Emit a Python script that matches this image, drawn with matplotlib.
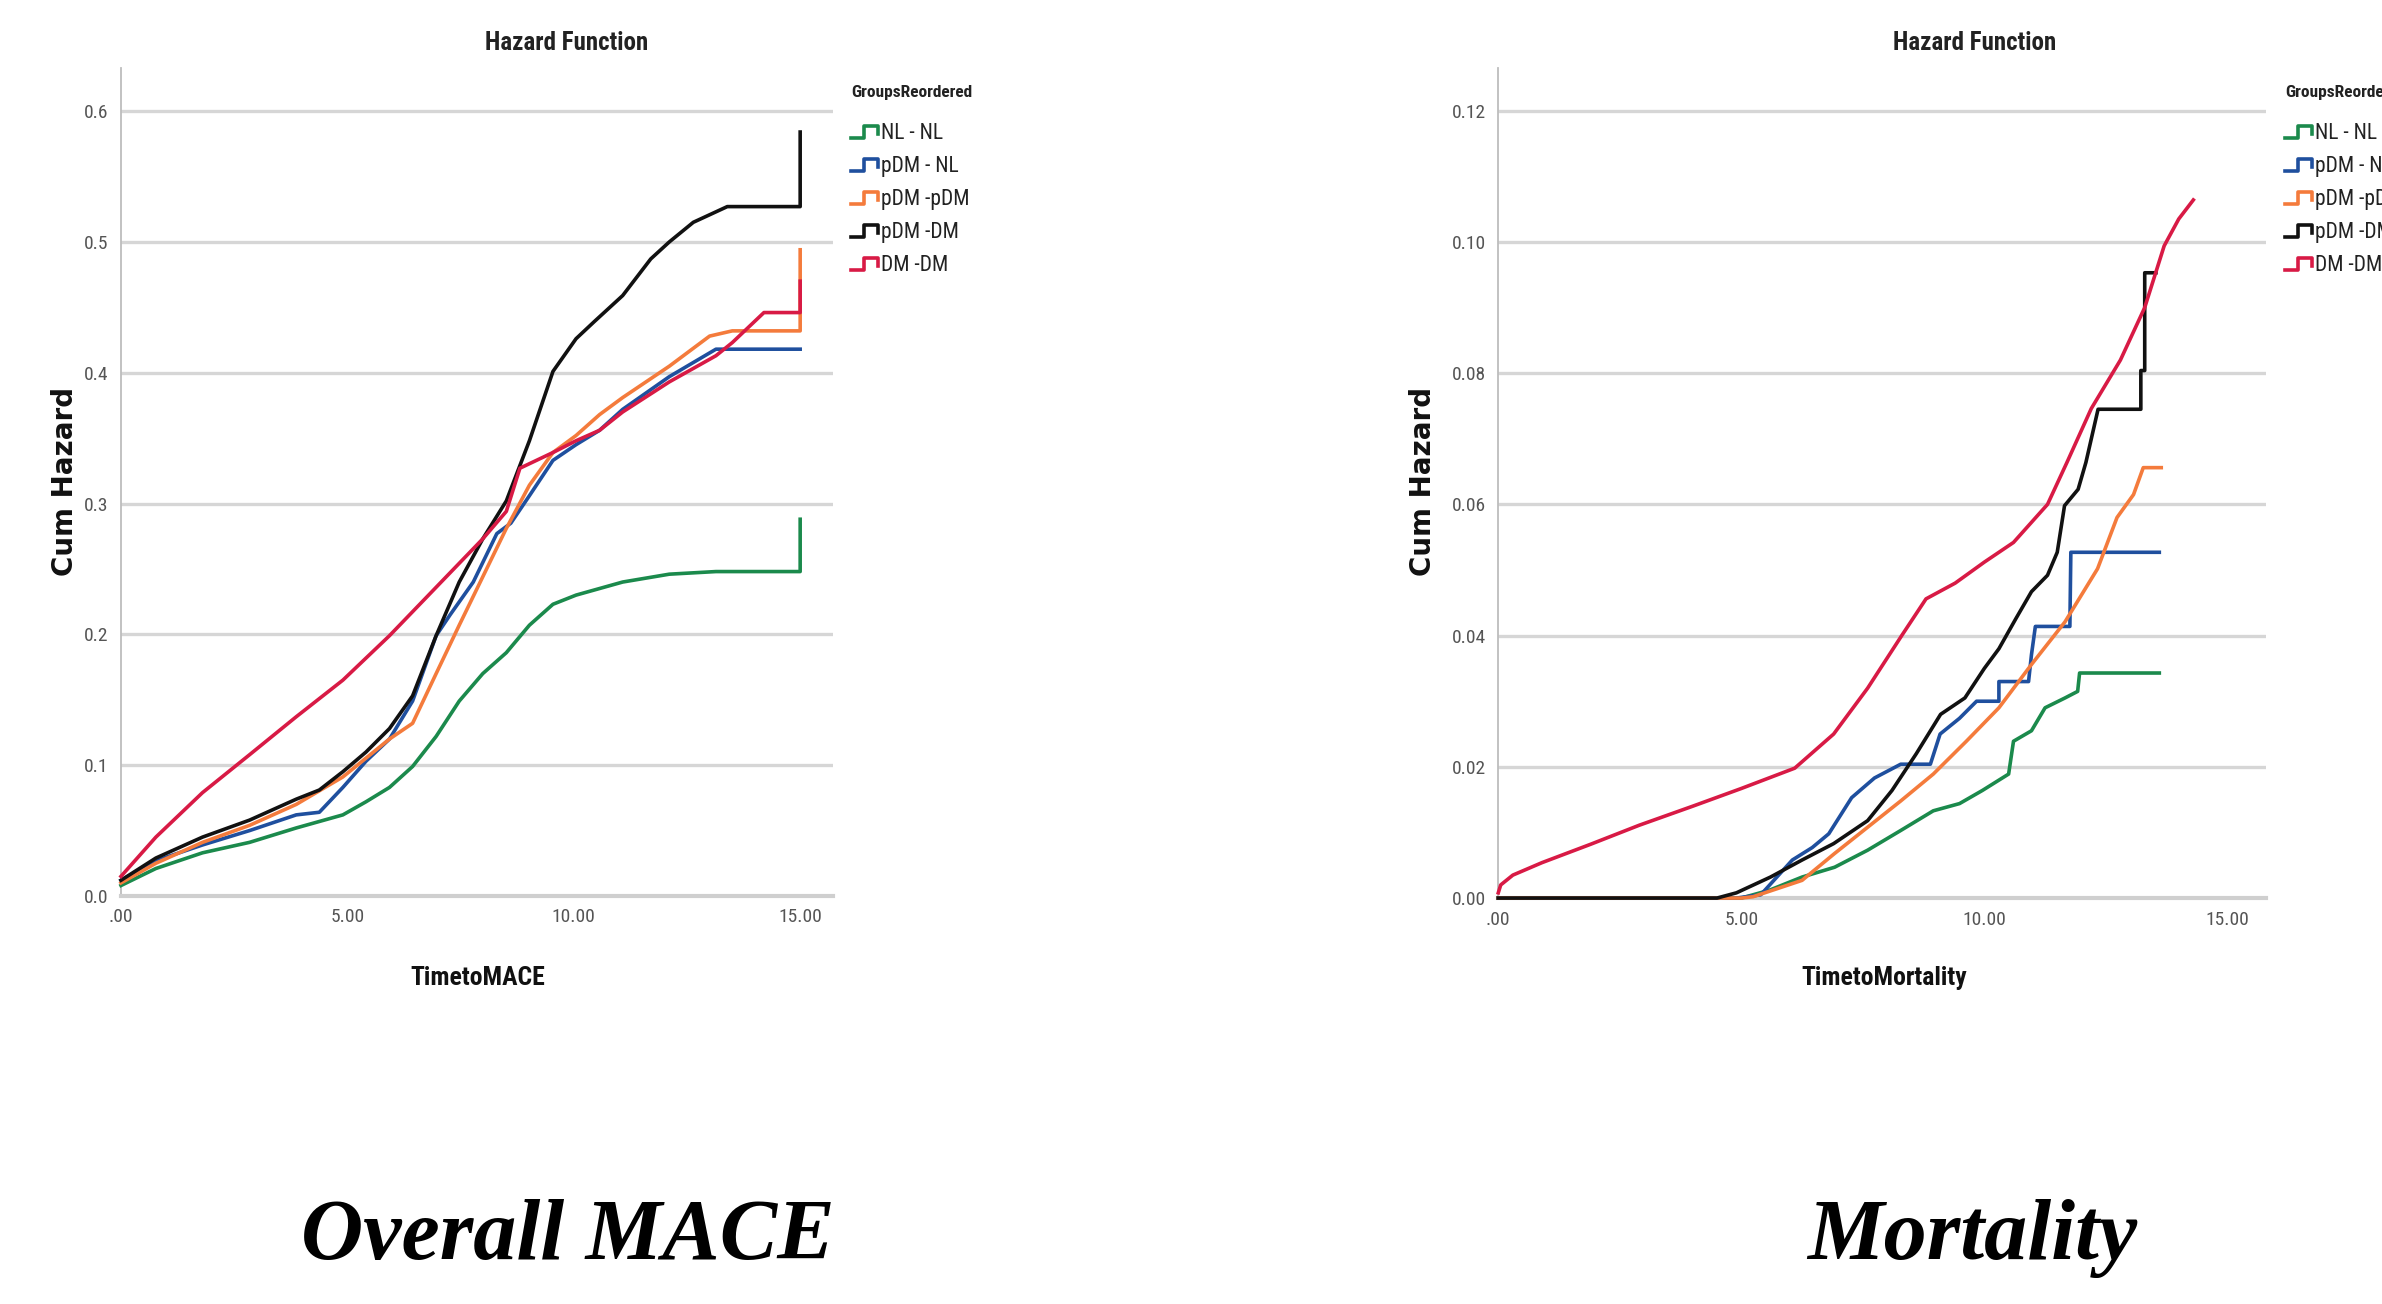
import numpy as np
import matplotlib
matplotlib.use("Agg")
import matplotlib.pyplot as plt
from matplotlib import font_manager
from matplotlib.legend_handler import HandlerBase
from matplotlib.lines import Line2D

# ---- data ----
groups = ["NL - NL", "pDM - NL", "pDM -pDM", "pDM -DM", "DM -DM"]
colors = ["#1b8a4c", "#1f4f9e", "#f47b3c", "#111111", "#d81a45"]

# Overall MACE (cumulative hazard vs TimetoMACE)
mace_t_nl = [0, 0.77, 1.8, 2.84, 3.87, 4.9, 5.41, 5.93, 6.44, 6.96, 7.47, 7.99, 8.51, 9.02,
             9.54, 10.05, 11.08, 12.11, 13.14, 15.0, 15.0]
mace_v_nl = [0.008, 0.021, 0.033, 0.041, 0.052, 0.062, 0.072, 0.083, 0.099, 0.122, 0.149, 0.170,
             0.186, 0.207, 0.223, 0.230, 0.240, 0.246, 0.248, 0.248, 0.288]
mace_t_pdm_nl = [0, 0.77, 1.8, 2.84, 3.87, 4.38, 4.9, 5.41, 5.93, 6.44, 6.96, 7.27, 7.78, 8.3,
                 8.61, 9.02, 9.54, 10.05, 10.57, 11.08, 12.11, 13.14, 15.0]
mace_v_pdm_nl = [0.012, 0.027, 0.039, 0.050, 0.062, 0.064, 0.083, 0.103, 0.120, 0.149, 0.199,
                 0.215, 0.240, 0.277, 0.285, 0.306, 0.333, 0.345, 0.356, 0.372, 0.397, 0.418, 0.418]
mace_t_pdm_pdm = [0, 0.77, 1.8, 2.84, 3.87, 4.9, 5.93, 6.44, 6.96, 7.47, 7.99, 8.51, 9.02, 9.54,
                  10.05, 10.57, 11.08, 12.11, 13.0, 13.5, 15.0, 15.0]
mace_v_pdm_pdm = [0.010, 0.025, 0.041, 0.054, 0.070, 0.091, 0.120, 0.132, 0.170, 0.207, 0.244,
                  0.281, 0.314, 0.339, 0.352, 0.368, 0.381, 0.405, 0.428, 0.432, 0.432, 0.494]
mace_t_pdm_dm = [0, 0.77, 1.8, 2.84, 3.87, 4.38, 4.9, 5.41, 5.93, 6.44, 6.96, 7.47, 7.99, 8.51,
                 9.02, 9.54, 10.05, 10.45, 11.08, 11.7, 12.11, 12.64, 13.39, 15.0, 15.0]
mace_v_pdm_dm = [0.012, 0.029, 0.045, 0.058, 0.074, 0.081, 0.095, 0.110, 0.128, 0.153, 0.199,
                 0.240, 0.273, 0.302, 0.348, 0.401, 0.426, 0.439, 0.459, 0.487, 0.500, 0.515,
                 0.527, 0.527, 0.584]
mace_t_dm = [0, 0.77, 1.8, 2.84, 3.87, 4.9, 5.93, 6.96, 7.99, 8.51, 8.81, 9.54, 10.05, 10.57,
             11.08, 12.11, 13.14, 13.5, 14.2, 15.0, 15.0]
mace_v_dm = [0.015, 0.045, 0.079, 0.108, 0.137, 0.165, 0.199, 0.236, 0.273, 0.294, 0.327, 0.339,
             0.348, 0.356, 0.370, 0.393, 0.413, 0.423, 0.446, 0.446, 0.470]

# Mortality (cumulative hazard vs TimetoMortality)
mort_t_nl = [0, 5.0, 5.58, 6.25, 6.92, 7.6, 8.28, 8.95, 9.49, 9.96, 10.5, 10.6, 10.97, 11.25,
             11.66, 11.92, 11.96, 13.6]
mort_v_nl = [0, 0, 0.0012, 0.0032, 0.0047, 0.0073, 0.0103, 0.0133, 0.0144, 0.0164, 0.0189,
             0.0239, 0.0255, 0.029, 0.0305, 0.0315, 0.0343, 0.0343]
mort_t_pdm_nl = [0, 4.9, 5.4, 6.05, 6.46, 6.8, 7.27, 7.74, 8.28, 8.89, 9.09, 9.49, 9.84, 10.3,
                 10.3, 10.91, 10.97, 11.05, 11.76, 11.78, 13.6]
mort_v_pdm_nl = [0, 0, 0.0005, 0.0058, 0.0077, 0.0098, 0.0153, 0.0183, 0.0204, 0.0204, 0.025,
                 0.0274, 0.030, 0.030, 0.033, 0.033, 0.0371, 0.0414, 0.0414, 0.0527, 0.0527]
mort_t_pdm_pdm = [0, 5.0, 5.24, 6.25, 6.92, 7.6, 8.28, 8.95, 9.63, 10.3, 10.97, 11.66, 12.33,
                  12.73, 13.07, 13.27, 13.64]
mort_v_pdm_pdm = [0, 0, 0.0002, 0.0027, 0.0068, 0.0108, 0.0148, 0.0189, 0.0239, 0.029, 0.0356,
                  0.0421, 0.0502, 0.058, 0.0615, 0.0656, 0.0656]
mort_t_pdm_dm = [0, 4.5, 4.9, 5.6, 6.25, 6.9, 7.6, 8.1, 8.6, 9.1, 9.6, 10.0, 10.3, 10.65, 10.97,
                 11.3, 11.5, 11.65, 11.93, 12.09, 12.34, 13.22, 13.22, 13.3, 13.3, 13.53]
mort_v_pdm_dm = [0, 0, 0.0008, 0.0032, 0.0058, 0.0083, 0.0118, 0.0164, 0.022, 0.028, 0.0305,
                 0.035, 0.038, 0.0426, 0.0467, 0.0492, 0.0527, 0.0598, 0.0623, 0.0664, 0.0745,
                 0.0745, 0.0804, 0.0804, 0.0953, 0.0953]
mort_t_dm = [0, 0.05, 0.3, 0.9, 1.9, 2.9, 4.0, 5.0, 6.1, 6.9, 7.6, 8.3, 8.8, 9.4, 10.0, 10.6,
             11.3, 11.7, 12.2, 12.8, 13.3, 13.7, 14.0, 14.3]
mort_v_dm = [0.0008, 0.002, 0.0035, 0.0054, 0.0082, 0.0111, 0.014, 0.0167, 0.0198, 0.025, 0.032,
             0.040, 0.0456, 0.048, 0.0512, 0.0542, 0.060, 0.0664, 0.0746, 0.082, 0.090, 0.0994,
             0.1035, 0.1064]

mace_yticks = [0.0, 0.1, 0.2, 0.3, 0.4, 0.5, 0.6]
mace_yticklabels = ["0.0", "0.1", "0.2", "0.3", "0.4", "0.5", "0.6"]
mort_yticks = [0.0, 0.02, 0.04, 0.06, 0.08, 0.10, 0.12]
mort_yticklabels = ["0.00", "0.02", "0.04", "0.06", "0.08", "0.10", "0.12"]
xticks = [0, 5, 10, 15]
xticklabels = [".00", "5.00", "10.00", "15.00"]

# the SPSS output uses a narrow sans; take whatever narrow face is installed
_fonts = {(f.name, f.stretch) for f in font_manager.fontManager.ttflist}
_names = {n for n, _ in _fonts}
if "Liberation Sans Narrow" in _names:
    NARROW = dict(family=["Liberation Sans Narrow", "DejaVu Sans"], fontstretch="normal")
    K = 1.0
elif "Roboto Condensed" in _names:
    NARROW = dict(family=["Roboto Condensed", "DejaVu Sans"], fontstretch="normal")
    K = 1.0
elif ("DejaVu Sans", "condensed") in _fonts or ("DejaVu Sans", 75) in _fonts:
    NARROW = dict(family=["DejaVu Sans"], fontstretch="condensed")
    K = 0.95
else:
    NARROW = dict(family=["DejaVu Sans"], fontstretch="normal")
    K = 0.8


class StepHandler(HandlerBase):
    # SPSS style step glyph for the legend
    def create_artists(self, legend, orig_handle, xdescent, ydescent, width, height,
                       fontsize, trans):
        xs = np.array([0.0, 0.45, 0.45, 0.95, 0.95]) * width - xdescent
        ys = np.array([0.05, 0.05, 0.85, 0.85, 0.35]) * height - ydescent
        ln = Line2D(xs, ys, color=orig_handle.get_color(),
                    lw=orig_handle.get_linewidth(), transform=trans)
        return [ln]


def draw_panel(ax, series, xmax, ymax, yticks, yticklabels):
    handles = []
    for (t, v), c, g in zip(series, colors, groups):
        h, = ax.plot(t, v, color=c, lw=2.6, label=g, zorder=3, clip_on=False)
        handles.append(h)
    ax.set_xlim(0, xmax)
    ax.set_ylim(0, ymax)
    ax.set_yticks(yticks)
    ax.set_yticklabels(yticklabels)
    ax.set_xticks(xticks)
    ax.set_xticklabels(xticklabels)
    ax.tick_params(length=0, labelsize=14 * K, labelcolor="#555555", pad=9)
    for lab in ax.get_xticklabels() + ax.get_yticklabels():
        lab.set_family(NARROW["family"])
        lab.set_fontstretch(NARROW["fontstretch"])
    ax.grid(axis="y", color="#d6d6d6", lw=2.4)
    ax.set_axisbelow(True)
    for s in ["top", "right"]:
        ax.spines[s].set_visible(False)
    ax.spines["left"].set_color("#bdbdbd")
    ax.spines["left"].set_linewidth(1.3)
    ax.spines["bottom"].set_color("#cfcfcf")
    ax.spines["bottom"].set_linewidth(3)
    return handles


fig = plt.figure(figsize=(23.82, 13.04), dpi=100)
ax1 = fig.add_axes([0.0508, 0.3129, 0.299, 0.635])
ax2 = fig.add_axes([0.629, 0.3113, 0.3224, 0.6365])

mace = [(mace_t_nl, mace_v_nl), (mace_t_pdm_nl, mace_v_pdm_nl), (mace_t_pdm_pdm, mace_v_pdm_pdm),
        (mace_t_pdm_dm, mace_v_pdm_dm), (mace_t_dm, mace_v_dm)]
mort = [(mort_t_nl, mort_v_nl), (mort_t_pdm_nl, mort_v_pdm_nl), (mort_t_pdm_pdm, mort_v_pdm_pdm),
        (mort_t_pdm_dm, mort_v_pdm_dm), (mort_t_dm, mort_v_dm)]

h1 = draw_panel(ax1, mace, 15.73, 0.633, mace_yticks, mace_yticklabels)
h2 = draw_panel(ax2, mort, 15.8, 0.1265, mort_yticks, mort_yticklabels)

for h, lx in [(h1, 851), (h2, 2285)]:
    leg = fig.legend(handles=h, labels=groups, loc="upper left",
                     bbox_to_anchor=(lx / 2382, 1 - 123 / 1304), frameon=False,
                     prop={"family": NARROW["family"], "stretch": NARROW["fontstretch"],
                           "size": 15.5 * K},
                     handlelength=1.3, handletextpad=0.1, labelspacing=0.56 / K,
                     borderpad=0, borderaxespad=0,
                     handler_map={Line2D: StepHandler()})
    for txt in leg.get_texts():
        txt.set_color("#222222")
    fig.text(lx / 2382, 1 - 93 / 1304, "GroupsReordered", ha="left", va="center",
             fontsize=12.5 * K, fontweight="bold", color="#222222", **NARROW)

# titles and axis labels
for x, s in [(567, "Hazard Function"), (1975, "Hazard Function")]:
    fig.text(x / 2382, 1 - 43 / 1304, s, ha="center", va="center", fontsize=18 * K,
             fontweight="bold", color="#222222", **NARROW)
for x, s in [(478, "TimetoMACE"), (1884, "TimetoMortality")]:
    fig.text(x / 2382, 1 - 978 / 1304, s, ha="center", va="center", fontsize=18.5 * K,
             fontweight="bold", color="#111111", **NARROW)
for x in [65, 1423]:
    fig.text(x / 2382, 1 - 481 / 1304, "Cum Hazard", ha="center", va="center", rotation=90,
             fontsize=20, fontweight="bold", family="DejaVu Sans", color="#111111")

# big panel captions
for x, s in [(568, "Overall MACE"), (1972, "Mortality")]:
    fig.text(x / 2382, 1 - 1238 / 1304, s, ha="center", va="center", fontsize=62,
             fontweight="bold", fontstyle="italic", family=["Liberation Serif", "DejaVu Serif"],
             color="#000000")

fig.savefig("out.png", dpi=100, facecolor="white")
